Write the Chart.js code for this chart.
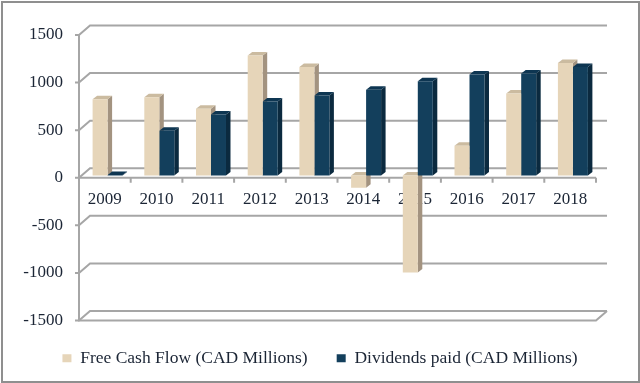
<!DOCTYPE html>
<html><head><meta charset="utf-8">
<script src="https://cdn.jsdelivr.net/npm/chart.js@4.4.1/dist/chart.umd.min.js"></script>
<style>html,body{margin:0;padding:0;background:#fff;}#wrap{width:640px;height:383px;position:relative;}</style>
</head><body><div id="wrap"><canvas id="c" width="640" height="383"></canvas></div>
<script>
const categories = ['2009','2010','2011','2012','2013','2014','2015','2016','2017','2018'];
const freeCashFlow = [800, 820, 700, 1260, 1140, -130, -1020, 310, 860, 1180];
const dividendsPaid = [5, 470, 640, 775, 840, 900, 990, 1060, 1070, 1140];
const yTicks = [-1500, -1000, -500, 0, 500, 1000, 1500];
const seriesNames = ['Free Cash Flow (CAD Millions)', 'Dividends paid (CAD Millions)'];

const FONT = 'Liberation Serif';
const TEXT = '#1b2535';
const GRID = '#a6a6a6';
const DEPTH = {dx: 11, dy: -9.5};
const BAR_SHIFT = 0.25;
const FACE = {dx: 4.5, dy: -3.5};
const faceColors = [{side: '#A39380', top: '#CBBBA0'}, {side: '#0B2A3F', top: '#0E3652'}];

const wall3d = {
  id: 'wall3d',
  beforeDraw(chart) {
    const ctx = chart.ctx;
    ctx.save();
    ctx.fillStyle = '#fff';
    ctx.fillRect(0, 0, chart.width, chart.height);
    ctx.strokeStyle = '#8f8f8f';
    ctx.lineWidth = 2;
    ctx.strokeRect(2, 2, chart.width - 3, chart.height - 3);
    ctx.restore();
  },
  beforeDatasetsDraw(chart) {
    const {ctx, chartArea: a, scales: {x, y}} = chart;
    ctx.save();
    ctx.strokeStyle = GRID;
    ctx.lineWidth = 2;
    y.ticks.forEach(t => {
      const py = y.getPixelForValue(t.value);
      ctx.beginPath();
      ctx.moveTo(a.left - 4, py);
      ctx.lineTo(a.left, py);
      ctx.lineTo(a.left + DEPTH.dx, py + DEPTH.dy);
      ctx.lineTo(a.right + DEPTH.dx, py + DEPTH.dy);
      ctx.stroke();
    });
    ctx.beginPath();
    ctx.moveTo(a.left, a.top);
    ctx.lineTo(a.left, a.bottom);
    ctx.lineTo(a.right, a.bottom);
    ctx.lineTo(a.right + DEPTH.dx, a.bottom + DEPTH.dy);
    ctx.stroke();
    const y0 = y.getPixelForValue(0);
    ctx.beginPath();
    ctx.moveTo(a.left, y0);
    ctx.lineTo(a.right, y0);
    const n = categories.length;
    for (let i = 0; i <= n; i++) {
      const px = a.left + i * (a.right - a.left) / n;
      ctx.moveTo(px, y0);
      ctx.lineTo(px, y0 + 5);
    }
    ctx.stroke();
    ctx.restore();

    ctx.save();
    ctx.translate(DEPTH.dx * BAR_SHIFT, DEPTH.dy * BAR_SHIFT);
    const metas = [chart.getDatasetMeta(0), chart.getDatasetMeta(1)];
    for (let i = 0; i < n; i++) {
      metas.forEach((meta, di) => {
        const el = meta.data[i];
        if (!el) return;
        const l = el.x - el.width / 2, r = el.x + el.width / 2;
        const top = Math.min(el.y, el.base), bot = Math.max(el.y, el.base);
        ctx.fillStyle = faceColors[di].side;
        ctx.beginPath();
        ctx.moveTo(r, top); ctx.lineTo(r + FACE.dx, top + FACE.dy);
        ctx.lineTo(r + FACE.dx, bot + FACE.dy); ctx.lineTo(r, bot);
        ctx.closePath(); ctx.fill();
        ctx.fillStyle = faceColors[di].top;
        ctx.beginPath();
        ctx.moveTo(l, top); ctx.lineTo(l + FACE.dx, top + FACE.dy);
        ctx.lineTo(r + FACE.dx, top + FACE.dy); ctx.lineTo(r, top);
        ctx.closePath(); ctx.fill();
      });
    }
  },
  afterDatasetsDraw(chart) {
    chart.ctx.restore();
  }
};

new Chart(document.getElementById('c'), {
  type: 'bar',
  data: {
    labels: categories,
    datasets: [
      {label: seriesNames[0], data: freeCashFlow, backgroundColor: '#E6D5B9', borderWidth: 0},
      {label: seriesNames[1], data: dividendsPaid, backgroundColor: '#133F5C', borderWidth: 0}
    ]
  },
  options: {
    responsive: false,
    animation: false,
    categoryPercentage: 0.58,
    barPercentage: 1.0,
    layout: {padding: {left: 0, right: 0, top: 35, bottom: 6}},
    scales: {
      x: {
        type: 'category',
        position: {y: 0},
        grid: {display: false, drawTicks: false},
        border: {display: false},
        ticks: {font: {family: FONT, size: 17}, color: TEXT, padding: 12, maxRotation: 0, autoSkip: false}
      },
      y: {
        min: yTicks[0],
        max: yTicks[yTicks.length - 1],
        afterBuildTicks: s => { s.ticks = yTicks.map(v => ({value: v})); },
        afterFit: s => { s.width = 79; },
        grid: {display: false, drawTicks: false},
        border: {display: false},
        ticks: {font: {family: FONT, size: 17}, color: TEXT, padding: 16, callback: v => String(v)}
      },
      yDepth: {
        type: 'linear',
        position: 'right',
        min: yTicks[0],
        max: yTicks[yTicks.length - 1],
        afterFit: s => { s.width = 44; },
        grid: {display: false, drawTicks: false},
        border: {display: false},
        ticks: {display: false}
      }
    },
    plugins: {
      tooltip: {enabled: false},
      legend: {
        position: 'bottom',
        align: 'center',
        labels: {boxWidth: 9, boxHeight: 8, padding: 29, color: TEXT, font: {family: FONT, size: 17.5}}
      }
    }
  },
  plugins: [wall3d]
});
</script>
</body></html>
